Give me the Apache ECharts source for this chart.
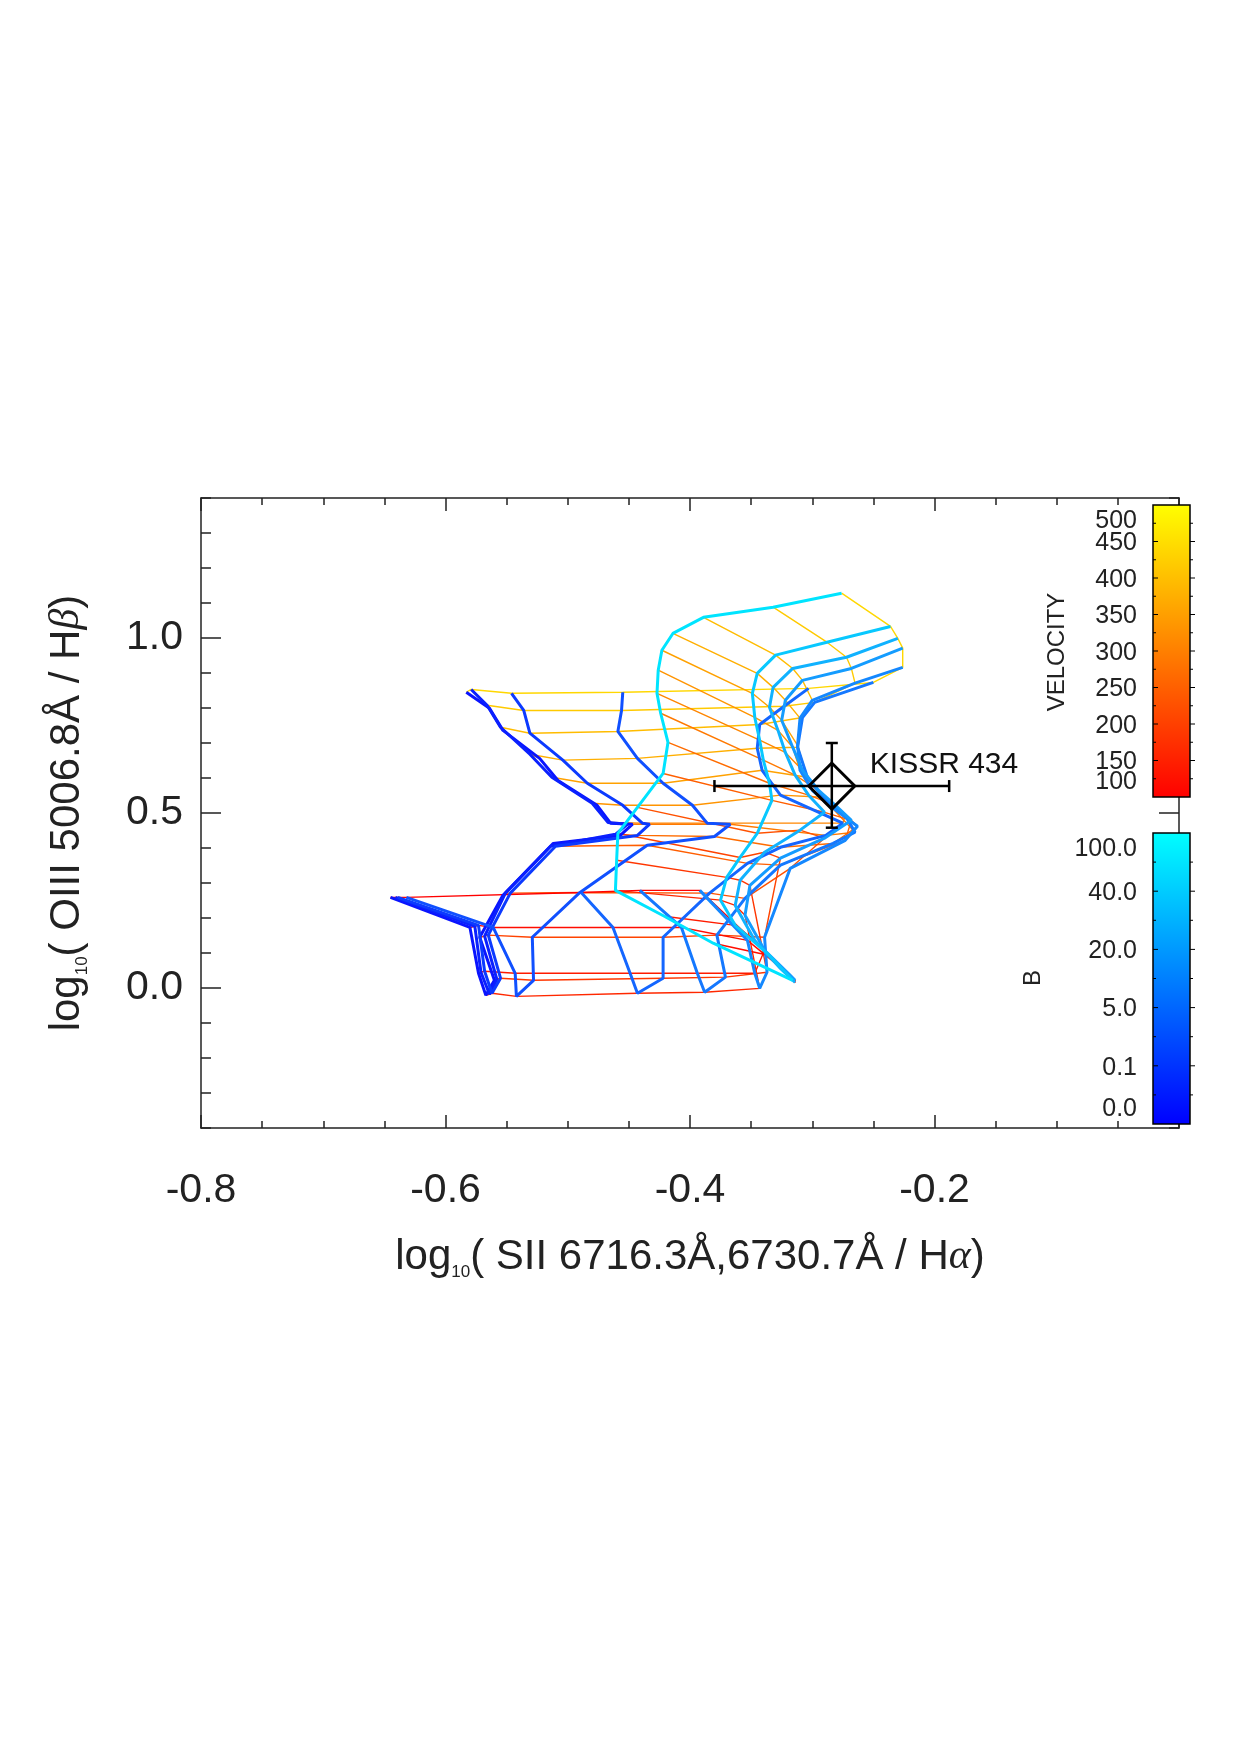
<!DOCTYPE html>
<html>
<head>
<meta charset="utf-8">
<script src="https://cdn.jsdelivr.net/npm/echarts@6/dist/echarts.min.js"></script>
<style>
html, body { margin: 0; padding: 0; background: #fff; }
#chart { width: 1240px; height: 1755px; }
</style>
</head>
<body>
<div id="chart"></div>
<script>
const FONT = '"Liberation Sans", Arial, Helvetica, sans-serif';

// shock velocities (km/s), in the order the points of every B line are listed
const velocities = [500, 475, 450, 425, 400, 375, 350, 325, 300, 275, 250, 225, 200, 175, 150, 125, 100];

// magnetic field values, one line each
const bValues = [0.0001, 0.5, 1.0, 2.0, 3.23, 4.0, 5.0, 10, 20, 40, 100];

// [log SII/Ha, log OIII/Hb] for each velocity, one array per B value
const bLine1 = [[-0.583,0.845],[-0.564,0.799],[-0.553,0.736],[-0.523,0.656],[-0.508,0.593],[-0.476,0.522],[-0.465,0.471],[-0.447,0.468],[-0.457,0.436],[-0.512,0.413],[-0.553,0.265],[-0.572,0.145],[-0.560,0.022],[-0.567,-0.021],[-0.573,0.042],[-0.580,0.173],[-0.645,0.259]];
const bLine2 = [[-0.579,0.853],[-0.566,0.808],[-0.555,0.745],[-0.531,0.668],[-0.513,0.602],[-0.480,0.528],[-0.467,0.473],[-0.451,0.468],[-0.461,0.439],[-0.514,0.405],[-0.551,0.271],[-0.568,0.148],[-0.558,0.025],[-0.564,-0.018],[-0.571,0.045],[-0.576,0.176],[-0.641,0.259]];
const bLine3 = [[-0.546,0.842],[-0.536,0.793],[-0.531,0.728],[-0.504,0.651],[-0.484,0.585],[-0.455,0.522],[-0.439,0.471],[-0.433,0.468],[-0.443,0.436],[-0.510,0.405],[-0.547,0.271],[-0.565,0.151],[-0.555,0.028],[-0.562,-0.015],[-0.568,0.048],[-0.573,0.179],[-0.639,0.259]];
const bLine4 = [[-0.455,0.845],[-0.456,0.793],[-0.459,0.733],[-0.443,0.656],[-0.422,0.585],[-0.398,0.522],[-0.386,0.471],[-0.367,0.468],[-0.380,0.433],[-0.435,0.408],[-0.490,0.273],[-0.529,0.145],[-0.528,0.022],[-0.542,-0.024],[-0.543,0.042],[-0.561,0.173],[-0.632,0.259]];
const bLine5 = [[-0.303,0.856],[-0.323,0.805],[-0.343,0.753],[-0.345,0.685],[-0.341,0.622],[-0.326,0.551],[-0.275,0.471],[-0.289,0.436],[-0.326,0.402],[-0.353,0.356],[-0.384,0.271],[-0.422,0.145],[-0.422,0.028],[-0.443,-0.015],[-0.449,0.042],[-0.463,0.173],[-0.489,0.273]];
const bLine6 = [[-0.250,0.873],[-0.298,0.816],[-0.308,0.773],[-0.312,0.688],[-0.304,0.602],[-0.291,0.545],[-0.273,0.493],[-0.265,0.445],[-0.283,0.413],[-0.326,0.351],[-0.355,0.256],[-0.378,0.151],[-0.371,0.031],[-0.388,-0.012],[-0.394,0.042],[-0.407,0.173],[-0.441,0.279]];
const bLine7 = [[-0.226,0.916],[-0.265,0.871],[-0.300,0.822],[-0.310,0.771],[-0.312,0.693],[-0.310,0.622],[-0.300,0.565],[-0.285,0.519],[-0.263,0.462],[-0.273,0.422],[-0.318,0.342],[-0.339,0.145],[-0.337,0.045],[-0.343,-0.001],[-0.347,0.042],[-0.353,0.136],[-0.392,0.279]];
const bLine8 = [[-0.226,0.971],[-0.268,0.913],[-0.308,0.879],[-0.322,0.822],[-0.325,0.765],[-0.316,0.688],[-0.308,0.622],[-0.295,0.565],[-0.281,0.522],[-0.268,0.479],[-0.290,0.428],[-0.326,0.371],[-0.351,0.293],[-0.355,0.208],[-0.339,0.108],[-0.318,0.036],[-0.314,0.022]];
const bLine9 = [[-0.230,0.999],[-0.272,0.945],[-0.316,0.913],[-0.332,0.859],[-0.335,0.802],[-0.328,0.736],[-0.322,0.673],[-0.314,0.608],[-0.303,0.551],[-0.290,0.502],[-0.310,0.451],[-0.339,0.388],[-0.359,0.308],[-0.363,0.236],[-0.347,0.136],[-0.326,0.056],[-0.314,0.016]];
const bLine10 = [[-0.236,1.033],[-0.288,0.988],[-0.330,0.951],[-0.345,0.899],[-0.349,0.842],[-0.347,0.773],[-0.343,0.708],[-0.340,0.651],[-0.335,0.585],[-0.333,0.536],[-0.345,0.442],[-0.359,0.373],[-0.370,0.316],[-0.375,0.251],[-0.363,0.179],[-0.335,0.093],[-0.316,0.022]];
const bLine11 = [[-0.276,1.128],[-0.332,1.088],[-0.389,1.059],[-0.414,1.013],[-0.423,0.965],[-0.426,0.908],[-0.427,0.842],[-0.424,0.785],[-0.418,0.702],[-0.422,0.613],[-0.443,0.516],[-0.459,0.442],[-0.460,0.365],[-0.461,0.279],[-0.421,0.205],[-0.381,0.128],[-0.316,0.022]];

const bLines = [bLine1, bLine2, bLine3, bLine4, bLine5, bLine6, bLine7, bLine8, bLine9, bLine10, bLine11];
const bColors = ['#0a14ff', '#0a20ff', '#0c3aff', '#1050ff', '#1466ff', '#1478ff', '#1488ff', '#149cff', '#10b2ff', '#08c8ff', '#00e4ff'];

// KISSR 434 measurement with error bars
const kissrPoint = [-0.284, 0.577];
const kissrXErr = [-0.380, -0.188];
const kissrYErr = [0.458, 0.700];

// colour bar tick labels
const vTicks = [100, 150, 200, 250, 300, 350, 400, 450, 500];
const bTickLabels = ['0.0', '0.1', '5.0', '20.0', '40.0', '100.0'];

const chart = echarts.init(document.getElementById('chart'));

const series = [];

// constant-velocity lines (thin, red -> yellow)
velocities.forEach(function (v, j) {
    const g = Math.round(215 * (v - 100) / 400);
    series.push({
        type: 'line',
        xAxisIndex: 0,
        yAxisIndex: 0,
        data: bLines.map(function (l) { return l[j]; }),
        symbol: 'none',
        silent: true,
        z: 2,
        lineStyle: { color: 'rgb(255,' + g + ',0)', width: 1.4 }
    });
});

// constant-B lines (thick, blue -> cyan)
bLines.forEach(function (l, i) {
    series.push({
        type: 'line',
        xAxisIndex: 0,
        yAxisIndex: 0,
        data: l,
        symbol: 'none',
        silent: true,
        z: 3,
        lineStyle: { color: bColors[i], width: 3 }
    });
});

// the object with its error bars
series.push({
    type: 'custom',
    xAxisIndex: 0,
    yAxisIndex: 0,
    data: [kissrPoint],
    silent: true,
    z: 10,
    renderItem: function (params, api) {
        const c = api.coord([api.value(0), api.value(1)]);
        const l = api.coord([kissrXErr[0], api.value(1)]);
        const r = api.coord([kissrXErr[1], api.value(1)]);
        const t = api.coord([api.value(0), kissrYErr[1]]);
        const b = api.coord([api.value(0), kissrYErr[0]]);
        const s = { stroke: '#000', lineWidth: 2.5, fill: 'none' };
        const cap = 6;
        const d = 23;
        return {
            type: 'group',
            children: [
                { type: 'line', shape: { x1: l[0], y1: l[1], x2: r[0], y2: r[1] }, style: s },
                { type: 'line', shape: { x1: l[0], y1: l[1] - cap, x2: l[0], y2: l[1] + cap }, style: s },
                { type: 'line', shape: { x1: r[0], y1: r[1] - cap, x2: r[0], y2: r[1] + cap }, style: s },
                { type: 'line', shape: { x1: t[0], y1: t[1], x2: b[0], y2: b[1] }, style: s },
                { type: 'line', shape: { x1: t[0] - cap, y1: t[1], x2: t[0] + cap, y2: t[1] }, style: s },
                { type: 'line', shape: { x1: b[0] - cap, y1: b[1], x2: b[0] + cap, y2: b[1] }, style: s },
                {
                    type: 'polygon',
                    shape: { points: [[c[0] - d, c[1]], [c[0], c[1] - d], [c[0] + d, c[1]], [c[0], c[1] + d]] },
                    style: { stroke: '#000', lineWidth: 3, fill: 'none' }
                },
                {
                    type: 'text',
                    x: c[0] + 38,
                    y: c[1] - 21,
                    style: {
                        text: 'KISSR 434', fontSize: 30, fontFamily: FONT, fill: '#111',
                        align: 'left', verticalAlign: 'middle'
                    }
                }
            ]
        };
    }
});

// colour bars drawn as graphics
const graphics = [];
function colourBar(x, y, w, h, top, bottom, labels, minorSteps) {
    graphics.push({
        type: 'rect',
        shape: { x: x, y: y, width: w, height: h },
        style: {
            fill: new echarts.graphic.LinearGradient(0, 0, 0, 1, [
                { offset: 0, color: top }, { offset: 1, color: bottom }
            ]),
            stroke: '#000', lineWidth: 1.5
        },
        z: 100
    });
    const n = labels.length - 1;
    for (let k = 1; k < n * minorSteps; k++) {
        const ty = y + h - k * h / (n * minorSteps);
        const len = (k % minorSteps === 0) ? 5 : 3;
        graphics.push({ type: 'line', shape: { x1: x, y1: ty, x2: x + len, y2: ty }, style: { stroke: '#000', lineWidth: 1 }, z: 101 });
        graphics.push({ type: 'line', shape: { x1: x + w, y1: ty, x2: x + w + len, y2: ty }, style: { stroke: '#000', lineWidth: 1 }, z: 101 });
    }
    labels.forEach(function (lab, i) {
        const ty = y + h - i * h / n;
        let va = 'middle';
        if (i === 0) va = 'bottom';
        if (i === n) va = 'top';
        graphics.push({
            type: 'text',
            x: x - 16,
            y: ty + (i === 0 ? -2 : (i === n ? 4 : 2)),
            style: { text: lab, fontSize: 25, fontFamily: FONT, fill: '#222', align: 'right', verticalAlign: va },
            z: 101
        });
    });
}
colourBar(1153, 505, 37, 292, '#ffff00', '#ff0000', vTicks.map(String), 2);
colourBar(1153, 833, 37, 291, '#00ffff', '#0000ff', bTickLabels, 2);

graphics.push({
    type: 'text', x: 1057, y: 652, rotation: Math.PI / 2,
    style: { text: 'VELOCITY', fontSize: 24, fontFamily: FONT, fill: '#222', align: 'center', verticalAlign: 'middle' },
    z: 101
});
graphics.push({
    type: 'text', x: 1033, y: 978, rotation: Math.PI / 2,
    style: { text: 'B', fontSize: 24, fontFamily: FONT, fill: '#222', align: 'center', verticalAlign: 'middle' },
    z: 101
});

const axisLine = { show: true, onZero: false, lineStyle: { color: '#222', width: 1.5 } };
const noLine = { show: false, onZero: false };
const tickLine = { color: '#222', width: 1.5 };

const titleRich = {
    t: { fontSize: 42, fontFamily: FONT, color: '#222', lineHeight: 48 },
    s: { fontSize: 17, fontFamily: FONT, color: '#222', lineHeight: 20, verticalAlign: 'bottom' },
    g: { fontSize: 42, fontFamily: '"Liberation Serif", "DejaVu Serif", serif', fontStyle: 'italic', color: '#222', lineHeight: 48 }
};

const option = {
    animation: false,
    backgroundColor: '#fff',
    textStyle: { fontFamily: FONT },
    grid: { left: 201, right: 61, top: 498, bottom: 627, containLabel: false },
    xAxis: [
        {
            type: 'value', position: 'bottom', min: -0.8, max: 0, interval: 0.2,
            axisLine: axisLine,
            axisTick: { show: true, inside: true, length: 13, lineStyle: tickLine },
            minorTick: { show: true, splitNumber: 4, length: 7, lineStyle: tickLine },
            splitLine: { show: false },
            axisLabel: {
                fontSize: 41, color: '#222', margin: 42, fontFamily: FONT,
                formatter: function (v) { return Math.abs(v) < 1e-9 ? '' : v.toFixed(1); }
            },
            name: '{t|log}{s|10}{t|( SII 6716.3Å,6730.7Å / H}{g|α}{t|)}',
            nameLocation: 'middle',
            nameGap: 105,
            nameTextStyle: { rich: titleRich }
        },
        {
            type: 'value', position: 'top', min: -0.8, max: 0, interval: 0.2,
            axisLine: axisLine,
            axisTick: { show: true, inside: true, length: 13, lineStyle: tickLine },
            minorTick: { show: true, splitNumber: 4, length: 7, lineStyle: tickLine },
            splitLine: { show: false },
            axisLabel: { show: false }
        }
    ],
    yAxis: [
        {
            type: 'value', position: 'left', min: -0.4, max: 1.4, interval: 0.1,
            axisLine: axisLine,
            axisTick: { show: true, inside: true, length: 10, lineStyle: tickLine },
            splitLine: { show: false },
            axisLabel: {
                fontSize: 41, color: '#222', margin: 18, fontFamily: FONT,
                formatter: function (v) {
                    return Math.abs(v * 2 - Math.round(v * 2)) < 1e-6 ? v.toFixed(1) : '';
                }
            },
            name: '{t|log}{s|10}{t|( OIII 5006.8Å / H}{g|β}{t|)}',
            nameLocation: 'middle',
            nameGap: 110,
            nameTextStyle: { rich: titleRich }
        },
        {
            type: 'value', position: 'left', min: -0.4, max: 1.4,
            axisLine: noLine,
            axisTick: { show: true, inside: true, length: 20, lineStyle: tickLine, customValues: [0, 0.5, 1.0] },
            splitLine: { show: false },
            axisLabel: { show: false }
        },
        {
            type: 'value', position: 'right', min: -0.4, max: 1.4, interval: 0.1,
            axisLine: axisLine,
            axisTick: { show: true, inside: true, length: 10, lineStyle: tickLine },
            splitLine: { show: false },
            axisLabel: { show: false }
        },
        {
            type: 'value', position: 'right', min: -0.4, max: 1.4,
            axisLine: noLine,
            axisTick: { show: true, inside: true, length: 20, lineStyle: tickLine, customValues: [0, 0.5, 1.0] },
            splitLine: { show: false },
            axisLabel: { show: false }
        }
    ],
    series: series,
    graphic: graphics
};

chart.setOption(option);
</script>
</body>
</html>
